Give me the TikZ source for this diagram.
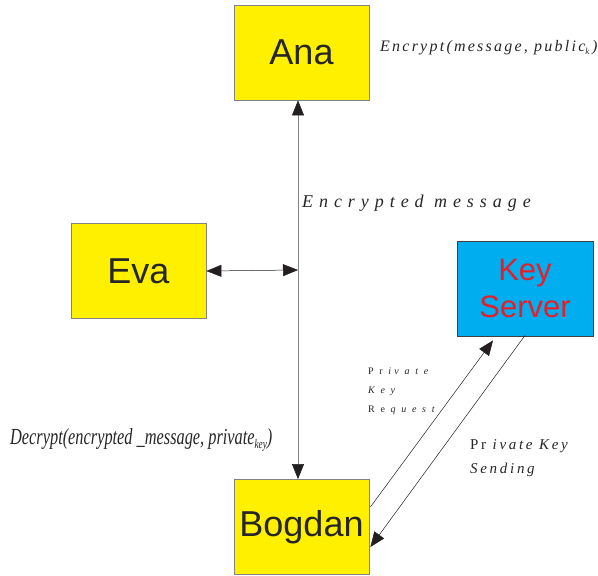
\documentclass[tikz,border=0pt]{standalone}
\usepackage{fontspec}
\usepackage{graphicx}
\setmainfont{Liberation Serif}
\newfontfamily\boxfont{Liberation Sans}
\usetikzlibrary{arrows.meta,calc}
\definecolor{boxyellow}{RGB}{255,240,0}
\definecolor{boxblue}{RGB}{0,174,239}
\definecolor{keyred}{RGB}{230,30,40}
\definecolor{edgegray}{RGB}{130,130,130}
\definecolor{tipblack}{RGB}{35,31,32}
\tikzset{
  person/.style={draw=edgegray, line width=0.8pt, fill=boxyellow, minimum width=135pt, minimum height=95pt, inner sep=0pt, font=\boxfont\fontsize{36}{40}\selectfont, text=black!85},
  server/.style={draw=black!75, line width=0.8pt, fill=boxblue, minimum width=136pt, minimum height=95pt, inner sep=0pt, align=center, font=\boxfont\fontsize{31}{37}\selectfont, text=keyred},
  conn/.style={line width=0.5pt, {Triangle[length=15pt,width=12pt,color=tipblack]}-{Triangle[length=15pt,width=12pt,color=tipblack]}},
  oneway/.style={line width=0.5pt, -{Triangle[length=15pt,width=12pt,color=tipblack]}},
  lbl/.style={inner sep=0pt, anchor=west, text=black!85}
}
\begin{document}
\begin{tikzpicture}[x=1pt,y=-1pt]
\useasboundingbox (0,0) rectangle (598,576);
\node[person] (Ana) at (301.5,52.5) {Ana};
\node[person] (Eva) at (138.5,271) {Eva};
\node[server] (Key) at (525,288.5) {Key\\Server};
\node[person] (Bogdan) at (301.5,527) {Bogdan};
\coordinate (mid) at (298,270);
\draw[conn, draw=edgegray] (mid |- Ana.south) -- (mid |- Bogdan.north);
\draw[conn, draw=tipblack] (Eva.east) -- (mid);
\coordinate (reqS) at ($(Bogdan.east)+(1,-20)$);
\coordinate (reqE) at ($(Key.south)+(-32,4)$);
\coordinate (sndS) at ($(Key.south)+(0,-1)$);
\coordinate (sndE) at ($(Bogdan.east)+(1,20)$);
\draw[oneway, draw=tipblack] (reqS) -- (reqE);
\draw[oneway, draw=tipblack] (sndS) -- (sndE);
\node[lbl] (t1) at (380,48) {\fontsize{16}{18}\selectfont\itshape\addfontfeature{LetterSpace=14}Encrypt(message, public\raisebox{-3pt}{\fontsize{9}{9}\selectfont k}\,)};
\node[lbl] (t2) at (302,203) {\fontsize{18}{20}\selectfont\itshape\addfontfeature{LetterSpace=33}Encrypted message};
\node[lbl] (t3) at (10,440) {\scalebox{0.71}[1]{\fontsize{23}{25}\selectfont\itshape Decrypt(encrypted \_message, private\raisebox{-4pt}{\fontsize{13}{13}\selectfont key})}};
\node[lbl, align=left, font=\fontsize{10}{19}\selectfont\addfontfeature{LetterSpace=32}] (t4) at (368,391) {P r \textit{iv a t e}\\\textit{K e y}\\R e \textit{q u e s t}};
\node[lbl, align=left, font=\fontsize{15}{24}\selectfont\addfontfeature{LetterSpace=18}] (t5) at (470,458) {Pr \textit{ivate Key}\\\textit{Sending}};
\end{tikzpicture}
\end{document}
